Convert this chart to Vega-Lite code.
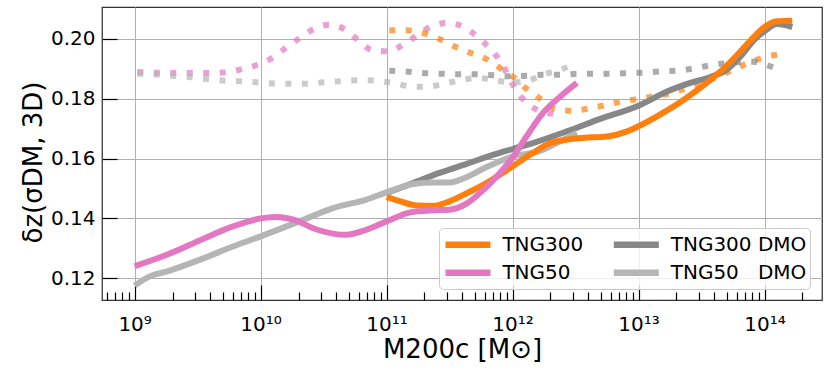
{
  "$schema": "https://vega.github.io/schema/vega-lite/v6.json",
  "width": 720,
  "height": 293,
  "autosize": {"type": "none"},
  "padding": {"left": 102, "top": 7, "right": 8, "bottom": 77},
  "background": "white",
  "config": {
    "font": "DejaVu Sans",
    "view": {"stroke": "#333333", "strokeWidth": 1.25},
    "axis": {
      "domain": false,
      "tickColor": "#000000",
      "tickWidth": 1.2,
      "gridColor": "#b0b0b0",
      "gridWidth": 1,
      "labelColor": "#000000",
      "titleColor": "#000000",
      "labelFontSize": 20,
      "titleFontSize": 26,
      "titleFontWeight": "normal"
    },
    "legend": {
      "orient": "none",
      "legendX": 337,
      "legendY": 221,
      "columns": 2,
      "symbolType": "M-1,0H3.5",
      "symbolSize": 400,
      "symbolStrokeWidth": 6.5,
      "labelFontSize": 20,
      "labelColor": "#000000",
      "labelOffset": 33.4,
      "labelLimit": 400,
      "columnPadding": 16.3,
      "rowPadding": 1.3,
      "padding": 3,
      "fillColor": "rgba(255,255,255,0.8)",
      "strokeColor": "#cccccc",
      "cornerRadius": 4
    }
  },
  "data": {
    "values": [
      {"m": 1.05e9, "v": 0.1890, "s": "TNG50", "k": "dotted"},
      {"m": 2.00e9, "v": 0.1886, "s": "TNG50", "k": "dotted"},
      {"m": 3.72e9, "v": 0.1886, "s": "TNG50", "k": "dotted"},
      {"m": 5.01e9, "v": 0.1888, "s": "TNG50", "k": "dotted"},
      {"m": 6.76e9, "v": 0.1897, "s": "TNG50", "k": "dotted"},
      {"m": 9.33e9, "v": 0.1913, "s": "TNG50", "k": "dotted"},
      {"m": 1.23e10, "v": 0.1936, "s": "TNG50", "k": "dotted"},
      {"m": 1.55e10, "v": 0.1967, "s": "TNG50", "k": "dotted"},
      {"m": 2.04e10, "v": 0.2003, "s": "TNG50", "k": "dotted"},
      {"m": 2.63e10, "v": 0.2033, "s": "TNG50", "k": "dotted"},
      {"m": 3.55e10, "v": 0.2048, "s": "TNG50", "k": "dotted"},
      {"m": 4.79e10, "v": 0.2029, "s": "TNG50", "k": "dotted"},
      {"m": 6.03e10, "v": 0.1994, "s": "TNG50", "k": "dotted"},
      {"m": 7.76e10, "v": 0.1962, "s": "TNG50", "k": "dotted"},
      {"m": 1.05e11, "v": 0.1959, "s": "TNG50", "k": "dotted"},
      {"m": 1.38e11, "v": 0.1984, "s": "TNG50", "k": "dotted"},
      {"m": 1.78e11, "v": 0.2014, "s": "TNG50", "k": "dotted"},
      {"m": 2.34e11, "v": 0.2045, "s": "TNG50", "k": "dotted"},
      {"m": 3.16e11, "v": 0.2054, "s": "TNG50", "k": "dotted"},
      {"m": 4.37e11, "v": 0.2033, "s": "TNG50", "k": "dotted"},
      {"m": 5.50e11, "v": 0.2000, "s": "TNG50", "k": "dotted"},
      {"m": 6.92e11, "v": 0.1959, "s": "TNG50", "k": "dotted"},
      {"m": 8.32e11, "v": 0.1914, "s": "TNG50", "k": "dotted"},
      {"m": 9.55e11, "v": 0.1864, "s": "TNG50", "k": "dotted"},
      {"m": 1.15e12, "v": 0.1810, "s": "TNG50", "k": "dotted"},
      {"m": 1.41e12, "v": 0.1775, "s": "TNG50", "k": "dotted"},
      {"m": 1.86e12, "v": 0.1752, "s": "TNG50", "k": "dotted"},
      {"m": 2.51e12, "v": 0.1750, "s": "TNG50", "k": "dotted"},

      {"m": 1.05e11, "v": 0.2029, "s": "TNG300", "k": "dotted"},
      {"m": 1.45e11, "v": 0.2029, "s": "TNG300", "k": "dotted"},
      {"m": 1.95e11, "v": 0.2020, "s": "TNG300", "k": "dotted"},
      {"m": 2.63e11, "v": 0.2000, "s": "TNG300", "k": "dotted"},
      {"m": 3.47e11, "v": 0.1975, "s": "TNG300", "k": "dotted"},
      {"m": 4.57e11, "v": 0.1955, "s": "TNG300", "k": "dotted"},
      {"m": 6.31e11, "v": 0.1931, "s": "TNG300", "k": "dotted"},
      {"m": 7.94e11, "v": 0.1903, "s": "TNG300", "k": "dotted"},
      {"m": 1.05e12, "v": 0.1868, "s": "TNG300", "k": "dotted"},
      {"m": 1.29e12, "v": 0.1833, "s": "TNG300", "k": "dotted"},
      {"m": 1.70e12, "v": 0.1797, "s": "TNG300", "k": "dotted"},
      {"m": 2.24e12, "v": 0.1764, "s": "TNG300", "k": "dotted"},
      {"m": 3.02e12, "v": 0.1760, "s": "TNG300", "k": "dotted"},
      {"m": 4.17e12, "v": 0.1769, "s": "TNG300", "k": "dotted"},
      {"m": 5.62e12, "v": 0.1780, "s": "TNG300", "k": "dotted"},
      {"m": 7.59e12, "v": 0.1792, "s": "TNG300", "k": "dotted"},
      {"m": 1.02e13, "v": 0.1800, "s": "TNG300", "k": "dotted"},
      {"m": 1.38e13, "v": 0.1809, "s": "TNG300", "k": "dotted"},
      {"m": 1.91e13, "v": 0.1822, "s": "TNG300", "k": "dotted"},
      {"m": 2.57e13, "v": 0.1840, "s": "TNG300", "k": "dotted"},
      {"m": 3.47e13, "v": 0.1859, "s": "TNG300", "k": "dotted"},
      {"m": 4.57e13, "v": 0.1881, "s": "TNG300", "k": "dotted"},
      {"m": 6.03e13, "v": 0.1903, "s": "TNG300", "k": "dotted"},
      {"m": 7.94e13, "v": 0.1925, "s": "TNG300", "k": "dotted"},
      {"m": 1.07e14, "v": 0.1942, "s": "TNG300", "k": "dotted"},
      {"m": 1.48e14, "v": 0.1950, "s": "TNG300", "k": "dotted"},

      {"m": 1.05e11, "v": 0.1894, "s": "TNG300 DMO", "k": "dotted"},
      {"m": 1.41e11, "v": 0.1891, "s": "TNG300 DMO", "k": "dotted"},
      {"m": 1.95e11, "v": 0.1886, "s": "TNG300 DMO", "k": "dotted"},
      {"m": 2.63e11, "v": 0.1884, "s": "TNG300 DMO", "k": "dotted"},
      {"m": 3.63e11, "v": 0.1882, "s": "TNG300 DMO", "k": "dotted"},
      {"m": 5.01e11, "v": 0.1882, "s": "TNG300 DMO", "k": "dotted"},
      {"m": 6.92e11, "v": 0.1879, "s": "TNG300 DMO", "k": "dotted"},
      {"m": 9.55e11, "v": 0.1875, "s": "TNG300 DMO", "k": "dotted"},
      {"m": 1.29e12, "v": 0.1877, "s": "TNG300 DMO", "k": "dotted"},
      {"m": 1.74e12, "v": 0.1880, "s": "TNG300 DMO", "k": "dotted"},
      {"m": 2.40e12, "v": 0.1880, "s": "TNG300 DMO", "k": "dotted"},
      {"m": 3.31e12, "v": 0.1884, "s": "TNG300 DMO", "k": "dotted"},
      {"m": 4.47e12, "v": 0.1884, "s": "TNG300 DMO", "k": "dotted"},
      {"m": 6.17e12, "v": 0.1884, "s": "TNG300 DMO", "k": "dotted"},
      {"m": 8.32e12, "v": 0.1886, "s": "TNG300 DMO", "k": "dotted"},
      {"m": 1.17e13, "v": 0.1888, "s": "TNG300 DMO", "k": "dotted"},
      {"m": 1.58e13, "v": 0.1892, "s": "TNG300 DMO", "k": "dotted"},
      {"m": 2.14e13, "v": 0.1895, "s": "TNG300 DMO", "k": "dotted"},
      {"m": 2.88e13, "v": 0.1903, "s": "TNG300 DMO", "k": "dotted"},
      {"m": 3.98e13, "v": 0.1914, "s": "TNG300 DMO", "k": "dotted"},
      {"m": 5.37e13, "v": 0.1920, "s": "TNG300 DMO", "k": "dotted"},
      {"m": 7.59e13, "v": 0.1925, "s": "TNG300 DMO", "k": "dotted"},
      {"m": 1.02e14, "v": 0.1914, "s": "TNG300 DMO", "k": "dotted"},
      {"m": 1.38e14, "v": 0.1892, "s": "TNG300 DMO", "k": "dotted"},

      {"m": 1.05e9, "v": 0.1884, "s": "TNG50 DMO", "k": "dotted"},
      {"m": 1.45e9, "v": 0.1881, "s": "TNG50 DMO", "k": "dotted"},
      {"m": 2.00e9, "v": 0.1877, "s": "TNG50 DMO", "k": "dotted"},
      {"m": 2.69e9, "v": 0.1873, "s": "TNG50 DMO", "k": "dotted"},
      {"m": 3.72e9, "v": 0.1866, "s": "TNG50 DMO", "k": "dotted"},
      {"m": 5.01e9, "v": 0.1861, "s": "TNG50 DMO", "k": "dotted"},
      {"m": 6.76e9, "v": 0.1859, "s": "TNG50 DMO", "k": "dotted"},
      {"m": 9.33e9, "v": 0.1855, "s": "TNG50 DMO", "k": "dotted"},
      {"m": 1.26e10, "v": 0.1851, "s": "TNG50 DMO", "k": "dotted"},
      {"m": 1.70e10, "v": 0.1850, "s": "TNG50 DMO", "k": "dotted"},
      {"m": 2.34e10, "v": 0.1850, "s": "TNG50 DMO", "k": "dotted"},
      {"m": 3.16e10, "v": 0.1855, "s": "TNG50 DMO", "k": "dotted"},
      {"m": 4.37e10, "v": 0.1859, "s": "TNG50 DMO", "k": "dotted"},
      {"m": 6.03e10, "v": 0.1862, "s": "TNG50 DMO", "k": "dotted"},
      {"m": 8.13e10, "v": 0.1861, "s": "TNG50 DMO", "k": "dotted"},
      {"m": 1.12e11, "v": 0.1853, "s": "TNG50 DMO", "k": "dotted"},
      {"m": 1.51e11, "v": 0.1842, "s": "TNG50 DMO", "k": "dotted"},
      {"m": 2.09e11, "v": 0.1840, "s": "TNG50 DMO", "k": "dotted"},
      {"m": 2.88e11, "v": 0.1851, "s": "TNG50 DMO", "k": "dotted"},
      {"m": 3.89e11, "v": 0.1862, "s": "TNG50 DMO", "k": "dotted"},
      {"m": 5.25e11, "v": 0.1870, "s": "TNG50 DMO", "k": "dotted"},
      {"m": 7.24e11, "v": 0.1862, "s": "TNG50 DMO", "k": "dotted"},
      {"m": 9.77e11, "v": 0.1855, "s": "TNG50 DMO", "k": "dotted"},
      {"m": 1.29e12, "v": 0.1859, "s": "TNG50 DMO", "k": "dotted"},
      {"m": 1.74e12, "v": 0.1881, "s": "TNG50 DMO", "k": "dotted"},
      {"m": 2.40e12, "v": 0.1897, "s": "TNG50 DMO", "k": "dotted"},
      {"m": 3.16e12, "v": 0.1920, "s": "TNG50 DMO", "k": "dotted"},

      {"m": 1.00e11, "v": 0.1485, "s": "TNG300 DMO", "k": "solid"},
      {"m": 1.62e11, "v": 0.1518, "s": "TNG300 DMO", "k": "solid"},
      {"m": 2.63e11, "v": 0.1552, "s": "TNG300 DMO", "k": "solid"},
      {"m": 4.37e11, "v": 0.1583, "s": "TNG300 DMO", "k": "solid"},
      {"m": 7.08e11, "v": 0.1613, "s": "TNG300 DMO", "k": "solid"},
      {"m": 1.00e12, "v": 0.1632, "s": "TNG300 DMO", "k": "solid"},
      {"m": 1.45e12, "v": 0.1652, "s": "TNG300 DMO", "k": "solid"},
      {"m": 2.69e12, "v": 0.1691, "s": "TNG300 DMO", "k": "solid"},
      {"m": 4.90e12, "v": 0.1732, "s": "TNG300 DMO", "k": "solid"},
      {"m": 1.00e13, "v": 0.1777, "s": "TNG300 DMO", "k": "solid"},
      {"m": 1.70e13, "v": 0.1825, "s": "TNG300 DMO", "k": "solid"},
      {"m": 2.57e13, "v": 0.1853, "s": "TNG300 DMO", "k": "solid"},
      {"m": 3.72e13, "v": 0.1873, "s": "TNG300 DMO", "k": "solid"},
      {"m": 5.01e13, "v": 0.1897, "s": "TNG300 DMO", "k": "solid"},
      {"m": 6.46e13, "v": 0.1942, "s": "TNG300 DMO", "k": "solid"},
      {"m": 8.32e13, "v": 0.1998, "s": "TNG300 DMO", "k": "solid"},
      {"m": 1.00e14, "v": 0.2026, "s": "TNG300 DMO", "k": "solid"},
      {"m": 1.26e14, "v": 0.2050, "s": "TNG300 DMO", "k": "solid"},
      {"m": 1.66e14, "v": 0.2040, "s": "TNG300 DMO", "k": "solid"},

      {"m": 1.00e9, "v": 0.1175, "s": "TNG50 DMO", "k": "solid"},
      {"m": 1.32e9, "v": 0.1206, "s": "TNG50 DMO", "k": "solid"},
      {"m": 1.82e9, "v": 0.1223, "s": "TNG50 DMO", "k": "solid"},
      {"m": 3.31e9, "v": 0.1262, "s": "TNG50 DMO", "k": "solid"},
      {"m": 6.03e9, "v": 0.1306, "s": "TNG50 DMO", "k": "solid"},
      {"m": 1.00e10, "v": 0.1340, "s": "TNG50 DMO", "k": "solid"},
      {"m": 2.04e10, "v": 0.1390, "s": "TNG50 DMO", "k": "solid"},
      {"m": 3.80e10, "v": 0.1435, "s": "TNG50 DMO", "k": "solid"},
      {"m": 6.92e10, "v": 0.1463, "s": "TNG50 DMO", "k": "solid"},
      {"m": 1.00e11, "v": 0.1487, "s": "TNG50 DMO", "k": "solid"},
      {"m": 1.62e11, "v": 0.1515, "s": "TNG50 DMO", "k": "solid"},
      {"m": 2.34e11, "v": 0.1520, "s": "TNG50 DMO", "k": "solid"},
      {"m": 3.16e11, "v": 0.1520, "s": "TNG50 DMO", "k": "solid"},
      {"m": 4.27e11, "v": 0.1537, "s": "TNG50 DMO", "k": "solid"},
      {"m": 6.17e11, "v": 0.1571, "s": "TNG50 DMO", "k": "solid"},
      {"m": 1.00e12, "v": 0.1607, "s": "TNG50 DMO", "k": "solid"},
      {"m": 1.62e12, "v": 0.1624, "s": "TNG50 DMO", "k": "solid"},
      {"m": 2.24e12, "v": 0.1652, "s": "TNG50 DMO", "k": "solid"},
      {"m": 3.24e12, "v": 0.1686, "s": "TNG50 DMO", "k": "solid"},

      {"m": 1.00e11, "v": 0.1471, "s": "TNG300", "k": "solid"},
      {"m": 1.29e11, "v": 0.1457, "s": "TNG300", "k": "solid"},
      {"m": 1.74e11, "v": 0.1443, "s": "TNG300", "k": "solid"},
      {"m": 2.34e11, "v": 0.1442, "s": "TNG300", "k": "solid"},
      {"m": 3.16e11, "v": 0.1457, "s": "TNG300", "k": "solid"},
      {"m": 4.37e11, "v": 0.1485, "s": "TNG300", "k": "solid"},
      {"m": 5.89e11, "v": 0.1513, "s": "TNG300", "k": "solid"},
      {"m": 7.94e11, "v": 0.1546, "s": "TNG300", "k": "solid"},
      {"m": 1.00e12, "v": 0.1574, "s": "TNG300", "k": "solid"},
      {"m": 1.45e12, "v": 0.1619, "s": "TNG300", "k": "solid"},
      {"m": 2.00e12, "v": 0.1652, "s": "TNG300", "k": "solid"},
      {"m": 2.69e12, "v": 0.1663, "s": "TNG300", "k": "solid"},
      {"m": 3.63e12, "v": 0.1669, "s": "TNG300", "k": "solid"},
      {"m": 5.62e12, "v": 0.1674, "s": "TNG300", "k": "solid"},
      {"m": 8.13e12, "v": 0.1691, "s": "TNG300", "k": "solid"},
      {"m": 1.00e13, "v": 0.1708, "s": "TNG300", "k": "solid"},
      {"m": 1.48e13, "v": 0.1747, "s": "TNG300", "k": "solid"},
      {"m": 2.29e13, "v": 0.1797, "s": "TNG300", "k": "solid"},
      {"m": 3.47e13, "v": 0.1853, "s": "TNG300", "k": "solid"},
      {"m": 4.79e13, "v": 0.1903, "s": "TNG300", "k": "solid"},
      {"m": 6.46e13, "v": 0.1959, "s": "TNG300", "k": "solid"},
      {"m": 8.32e13, "v": 0.2009, "s": "TNG300", "k": "solid"},
      {"m": 1.00e14, "v": 0.2040, "s": "TNG300", "k": "solid"},
      {"m": 1.26e14, "v": 0.2059, "s": "TNG300", "k": "solid"},
      {"m": 1.66e14, "v": 0.2061, "s": "TNG300", "k": "solid"},

      {"m": 1.00e9, "v": 0.1240, "s": "TNG50", "k": "solid"},
      {"m": 1.82e9, "v": 0.1279, "s": "TNG50", "k": "solid"},
      {"m": 3.31e9, "v": 0.1327, "s": "TNG50", "k": "solid"},
      {"m": 6.03e9, "v": 0.1373, "s": "TNG50", "k": "solid"},
      {"m": 1.00e10, "v": 0.1400, "s": "TNG50", "k": "solid"},
      {"m": 1.35e10, "v": 0.1405, "s": "TNG50", "k": "solid"},
      {"m": 1.82e10, "v": 0.1396, "s": "TNG50", "k": "solid"},
      {"m": 2.82e10, "v": 0.1362, "s": "TNG50", "k": "solid"},
      {"m": 4.79e10, "v": 0.1345, "s": "TNG50", "k": "solid"},
      {"m": 6.92e10, "v": 0.1362, "s": "TNG50", "k": "solid"},
      {"m": 1.00e11, "v": 0.1390, "s": "TNG50", "k": "solid"},
      {"m": 1.55e11, "v": 0.1420, "s": "TNG50", "k": "solid"},
      {"m": 2.34e11, "v": 0.1427, "s": "TNG50", "k": "solid"},
      {"m": 3.16e11, "v": 0.1429, "s": "TNG50", "k": "solid"},
      {"m": 4.37e11, "v": 0.1451, "s": "TNG50", "k": "solid"},
      {"m": 5.89e11, "v": 0.1496, "s": "TNG50", "k": "solid"},
      {"m": 7.94e11, "v": 0.1552, "s": "TNG50", "k": "solid"},
      {"m": 1.00e12, "v": 0.1603, "s": "TNG50", "k": "solid"},
      {"m": 1.29e12, "v": 0.1674, "s": "TNG50", "k": "solid"},
      {"m": 1.74e12, "v": 0.1752, "s": "TNG50", "k": "solid"},
      {"m": 2.40e12, "v": 0.1808, "s": "TNG50", "k": "solid"},
      {"m": 3.24e12, "v": 0.1853, "s": "TNG50", "k": "solid"}
    ]
  },
  "layer": [
    {
      "transform": [{"filter": "datum.k == 'dotted'"}],
      "mark": {"type": "line", "strokeWidth": 6, "strokeDash": [6, 10.5], "strokeCap": "butt", "opacity": 0.7, "interpolate": "monotone"},
      "encoding": {
        "x": {
          "field": "m", "type": "quantitative",
          "scale": {"type": "log", "domain": [5.51e8, 2.86e14], "nice": false},
          "axis": {
            "orient": "bottom",
            "values": [1e9, 1e10, 1e11, 1e12, 1e13, 1e14],
            "labelExpr": "'10' + ['⁹','¹⁰','¹¹','¹²','¹³','¹⁴'][round(log(datum.value)/LN10) - 9]",
            "tickSize": -15,
            "labelPadding": 29,
            "grid": true,
            "title": "M200c [M⊙]",
            "titlePadding": 2
          }
        },
        "y": {
          "field": "v", "type": "quantitative",
          "scale": {"domain": [0.1127, 0.2107], "nice": false, "zero": false},
          "axis": {
            "values": [0.12, 0.14, 0.16, 0.18, 0.20],
            "format": ".2f",
            "tickSize": -15,
            "labelPadding": 22,
            "grid": true,
            "title": "δz(σDM, 3D)",
            "titlePadding": 4,
            "titleY": 155
          }
        },
        "color": {
          "field": "s", "type": "nominal",
          "scale": {"domain": ["TNG300", "TNG50", "TNG300 DMO", "TNG50 DMO"], "range": ["#ff7f0e", "#e377c2", "#878787", "#b5b5b5"]},
          "legend": {
            "title": null,
            "symbolDash": [],
            "symbolOpacity": 1,
            "labelExpr": "datum.label == 'TNG50 DMO' ? 'TNG50\u00a0\u00a0\u00a0DMO' : datum.label"
          }
        }
      }
    },
    {
      "transform": [{"filter": "datum.k == 'solid'"}],
      "mark": {"type": "line", "strokeWidth": 6, "strokeCap": "butt", "strokeJoin": "round", "interpolate": "monotone"},
      "encoding": {
        "x": {
          "field": "m", "type": "quantitative",
          "scale": {"type": "log", "domain": [5.51e8, 2.86e14], "nice": false},
          "axis": {
            "orient": "bottom",
            "values": [6e8, 7e8, 8e8, 9e8, 2e9, 3e9, 4e9, 5e9, 6e9, 7e9, 8e9, 9e9, 2e10, 3e10, 4e10, 5e10, 6e10, 7e10, 8e10, 9e10, 2e11, 3e11, 4e11, 5e11, 6e11, 7e11, 8e11, 9e11, 2e12, 3e12, 4e12, 5e12, 6e12, 7e12, 8e12, 9e12, 2e13, 3e13, 4e13, 5e13, 6e13, 7e13, 8e13, 9e13, 2e14],
            "labels": false, "grid": false, "domain": false, "title": null, "tickSize": -8
          }
        },
        "y": {
          "field": "v", "type": "quantitative",
          "scale": {"domain": [0.1127, 0.2107], "nice": false, "zero": false},
          "axis": {
            "values": [0.12, 0.14, 0.16, 0.18, 0.20],
            "format": ".2f",
            "tickSize": -15,
            "labelPadding": 22,
            "grid": true,
            "title": "δz(σDM, 3D)",
            "titlePadding": 4,
            "titleY": 155
          }
        },
        "color": {
          "field": "s", "type": "nominal",
          "scale": {"domain": ["TNG300", "TNG50", "TNG300 DMO", "TNG50 DMO"], "range": ["#ff7f0e", "#e377c2", "#878787", "#b5b5b5"]},
          "legend": {
            "title": null,
            "symbolDash": [],
            "symbolOpacity": 1,
            "labelExpr": "datum.label == 'TNG50 DMO' ? 'TNG50\u00a0\u00a0\u00a0DMO' : datum.label"
          }
        }
      }
    }
  ],
  "resolve": {"axis": {"x": "independent"}}
}
